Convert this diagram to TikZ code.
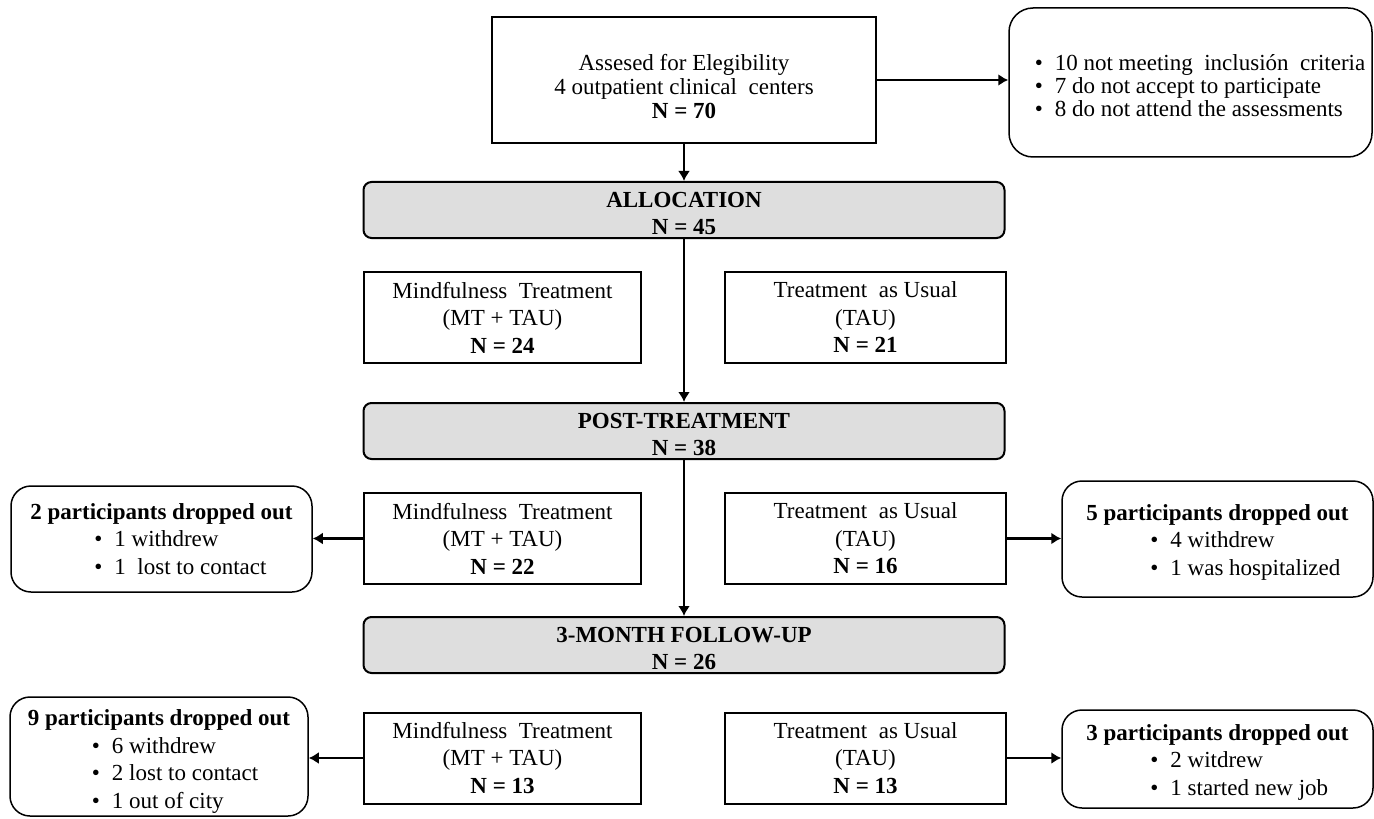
\documentclass[tikz,border=0pt]{standalone}
\usepackage{fontspec}
\setmainfont{Liberation Serif}
\usetikzlibrary{arrows.meta}
\definecolor{stagegray}{RGB}{222,222,222}
\tikzset{
  armbox/.style={draw,line width=1pt,minimum width=138.5pt,minimum height=45.5pt,align=center,inner sep=0pt},
  stage/.style={draw,line width=1pt,fill=stagegray,rounded corners=4pt,minimum width=320.5pt,minimum height=28pt,align=center,inner sep=0pt},
  dropbox/.style={draw,line width=0.75pt,rounded corners=10pt,align=left,inner sep=0pt},
  flow/.style={->,line width=1.3pt}
}

\begin{document}
\begin{tikzpicture}[x=0.5pt,y=-0.5pt,>={Latex[length=5pt,width=6pt]},font=\fontsize{11.5}{13.75}\selectfont]
\useasboundingbox (0,0) rectangle (1374,818);
% enrolment
\node[armbox,minimum width=192pt,minimum height=63pt,font=\fontsize{11.5}{12}\selectfont] (assess) at (684,80) {\rule{0pt}{14.5pt}Assesed for Elegibility\\4 outpatient clinical\ \ centers\\\textbf{N = 70}};
\node[dropbox,rounded corners=12pt,minimum width=181.5pt,minimum height=74.5pt,font=\fontsize{11.5}{11.5}\selectfont] (excl) at (1190.5,82.5) {\rule{0pt}{11.5pt}\hspace*{9.5pt}\textbullet\hspace{6pt}10 not meeting\ \ inclusión\ \ criteria\\\hspace*{9.5pt}\textbullet\hspace{6pt}7 do not accept to participate\\\hspace*{9.5pt}\textbullet\hspace{6pt}8 do not attend the assessments};
% stages
\node[stage] (alloc) at (684,210) {\rule{0pt}{11pt}\textbf{ALLOCATION}\\\textbf{N = 45}};
\node[stage] (post) at (684,431) {\rule{0pt}{11pt}\textbf{POST-TREATMENT}\\\textbf{N = 38}};
\node[stage] (fu) at (684,645) {\rule{0pt}{11pt}\textbf{3-MONTH FOLLOW-UP}\\\textbf{N = 26}};
% arms
\node[armbox] (mtalloc) at (502.5,317.5) {Mindfulness\ \ Treatment\\(MT + TAU)\\\textbf{N = 24}};
\node[armbox,minimum width=140.5pt] (taualloc) at (865.5,317.5) {Treatment\ \ as Usual\\(TAU)\\\textbf{N = 21}};
\node[armbox] (mtpost) at (502.5,538.5) {Mindfulness\ \ Treatment\\(MT + TAU)\\\textbf{N = 22}};
\node[armbox,minimum width=140.5pt] (taupost) at (865.5,538.5) {Treatment\ \ as Usual\\(TAU)\\\textbf{N = 16}};
\node[armbox] (mtfu) at (502.5,758) {Mindfulness\ \ Treatment\\(MT + TAU)\\\textbf{N = 13}};
\node[armbox,minimum width=140.5pt] (taufu) at (865.5,758) {Treatment\ \ as Usual\\(TAU)\\\textbf{N = 13}};
% drop-outs
\node[dropbox,minimum width=150.5pt,minimum height=53pt] (dropmtpost) at (161.5,539) {\textbf{2 participants dropped out}\\\hspace*{32pt}\textbullet\hspace{6pt}1 withdrew\\\hspace*{32pt}\textbullet\hspace{6pt}1\ \ lost to contact};
\node[dropbox,minimum width=155.5pt,minimum height=58pt] (droptaupost) at (1217.5,539) {\rule{0pt}{11pt}\textbf{5 participants dropped out}\\\hspace*{32pt}\textbullet\hspace{6pt}4 withdrew\\\hspace*{32pt}\textbullet\hspace{6pt}1 was hospitalized};
\node[dropbox,minimum width=149pt,minimum height=59.5pt] (dropmtfu) at (159,756.5) {\rule{0pt}{13pt}\textbf{9 participants dropped out}\\\hspace*{32pt}\textbullet\hspace{6pt}6 withdrew\\\hspace*{32pt}\textbullet\hspace{6pt}2 lost to contact\\\hspace*{32pt}\textbullet\hspace{6pt}1 out of city};
\node[dropbox,minimum width=155.5pt,minimum height=49pt] (droptaufu) at (1217.5,759) {\rule{0pt}{11pt}\textbf{3 participants dropped out}\\\hspace*{32pt}\textbullet\hspace{6pt}2 witdrew\\\hspace*{32pt}\textbullet\hspace{6pt}1 started new job};
% connectors
\draw[flow] (assess.south) -- (alloc.north);
\draw[flow] (assess.east) -- (assess.east -| excl.west);
\draw[flow] (alloc.south) -- (post.north);
\draw[flow] (post.south) -- (fu.north);
\draw[flow] (mtpost.west) -- (mtpost.west -| dropmtpost.east);
\draw[flow] (taupost.east) -- (taupost.east -| droptaupost.west);
\draw[flow] (mtfu.west) -- (mtfu.west -| dropmtfu.east);
\draw[flow] (taufu.east) -- (taufu.east -| droptaufu.west);
\end{tikzpicture}
\end{document}
